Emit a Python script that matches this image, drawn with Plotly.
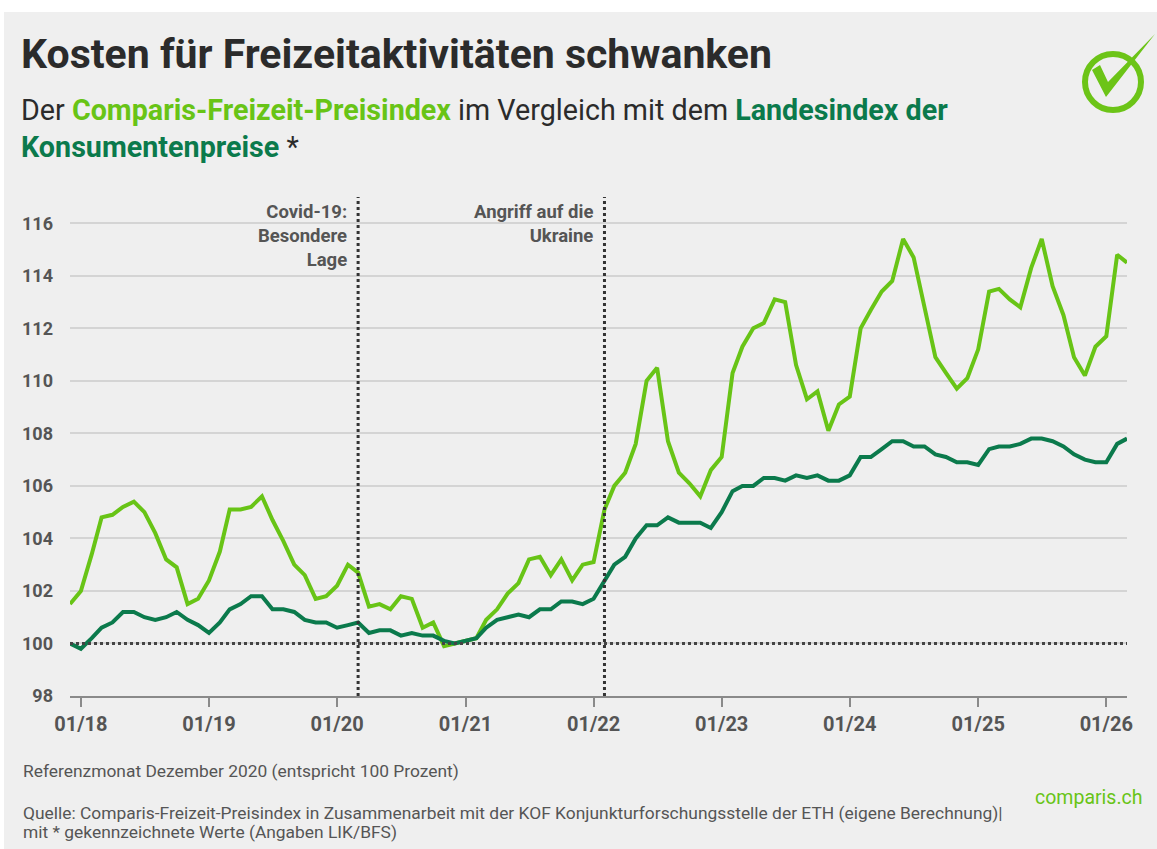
import plotly.graph_objects as go
import pandas as pd

# ---------------- data ----------------
months = pd.date_range("2017-12-01", "2026-03-01", freq="MS").strftime("%Y-%m-%d").tolist()

freizeit_index = [
    101.5,
    102.0, 103.4, 104.8, 104.9, 105.2, 105.4, 105.0, 104.2, 103.2, 102.9, 101.5, 101.7,
    102.4, 103.5, 105.1, 105.1, 105.2, 105.6, 104.7, 103.9, 103.0, 102.6, 101.7, 101.8,
    102.2, 103.0, 102.7, 101.4, 101.5, 101.3, 101.8, 101.7, 100.6, 100.8, 99.9, 100.0,
    100.1, 100.2, 100.9, 101.3, 101.9, 102.3, 103.2, 103.3, 102.6, 103.2, 102.4, 103.0,
    103.1, 105.1, 106.0, 106.5, 107.6, 110.0, 110.5, 107.7, 106.5, 106.1, 105.6, 106.6,
    107.1, 110.3, 111.3, 112.0, 112.2, 113.1, 113.0, 110.6, 109.3, 109.6, 108.1, 109.1,
    109.4, 112.0, 112.7, 113.4, 113.8, 115.4, 114.7, 112.8, 110.9, 110.3, 109.7, 110.1,
    111.2, 113.4, 113.5, 113.1, 112.8, 114.3, 115.4, 113.6, 112.5, 110.9, 110.2, 111.3,
    111.7, 114.8, 114.5,
]

lik_index = [
    100.0,
    99.8, 100.2, 100.6, 100.8, 101.2, 101.2, 101.0, 100.9, 101.0, 101.2, 100.9, 100.7,
    100.4, 100.8, 101.3, 101.5, 101.8, 101.8, 101.3, 101.3, 101.2, 100.9, 100.8, 100.8,
    100.6, 100.7, 100.8, 100.4, 100.5, 100.5, 100.3, 100.4, 100.3, 100.3, 100.1, 100.0,
    100.1, 100.2, 100.6, 100.9, 101.0, 101.1, 101.0, 101.3, 101.3, 101.6, 101.6, 101.5,
    101.7, 102.4, 103.0, 103.3, 104.0, 104.5, 104.5, 104.8, 104.6, 104.6, 104.6, 104.4,
    105.0, 105.8, 106.0, 106.0, 106.3, 106.3, 106.2, 106.4, 106.3, 106.4, 106.2, 106.2,
    106.4, 107.1, 107.1, 107.4, 107.7, 107.7, 107.5, 107.5, 107.2, 107.1, 106.9, 106.9,
    106.8, 107.4, 107.5, 107.5, 107.6, 107.8, 107.8, 107.7, 107.5, 107.2, 107.0, 106.9,
    106.9, 107.6, 107.8,
]

tick_dates = ["2018-01-01", "2019-01-01", "2020-01-01", "2021-01-01", "2022-01-01",
              "2023-01-01", "2024-01-01", "2025-01-01", "2026-01-01"]
tick_labels = ["01/18", "01/19", "01/20", "01/21", "01/22", "01/23", "01/24", "01/25", "01/26"]
y_ticks = [98, 100, 102, 104, 106, 108, 110, 112, 114, 116]

event_dates = ["2020-03-01", "2022-02-01"]
event_labels = ["Covid-19:<br>Besondere<br>Lage", "Angriff auf die<br>Ukraine"]
reference_value = 100

# ---------------- style ----------------
W, H = 1157, 849
L, R, T, B = 70, 30, 197, 153
PW, PH = W - L - R, H - T - B

def px(x):
    return (x - L) / PW

def py(y):
    return (H - B - y) / PH

LIGHT = "#68c416"
DARK = "#0b7a4c"
BG = "#efefef"
FONT = "Roboto, Arial, sans-serif"

fig = go.Figure()
fig.add_trace(go.Scatter(x=months, y=freizeit_index, mode="lines",
                         line=dict(color=LIGHT, width=4), name="Comparis-Freizeit-Preisindex"))
fig.add_trace(go.Scatter(x=months, y=lik_index, mode="lines",
                         line=dict(color=DARK, width=4), name="Landesindex der Konsumentenpreise"))

shapes = []
# white strips around the grey panel
shapes.append(dict(type="rect", xref="paper", yref="paper", x0=px(0), x1=px(W), y0=py(12), y1=py(0),
                   fillcolor="white", line=dict(width=0), layer="below"))
shapes.append(dict(type="rect", xref="paper", yref="paper", x0=px(0), x1=px(4), y0=py(H), y1=py(0),
                   fillcolor="white", line=dict(width=0), layer="below"))
# reference line at 100
shapes.append(dict(type="line", xref="paper", yref="y", x0=0, x1=1, y0=reference_value, y1=reference_value,
                   line=dict(color="#444444", width=3, dash="dot"), layer="above"))
# event lines
for d in event_dates:
    shapes.append(dict(type="line", xref="x", yref="paper", x0=d, x1=d, y0=0, y1=1,
                       line=dict(color="#333333", width=3, dash="dot"), layer="above"))
# logo: ring + check
cx, cy, r = 1113, 82, 28
shapes.append(dict(type="circle", xref="paper", yref="paper",
                   x0=px(cx - r), x1=px(cx + r), y0=py(cy + r), y1=py(cy - r),
                   line=dict(color="#6cc417", width=6), fillcolor="rgba(0,0,0,0)"))
check = [(1092, 70), (1100, 65), (1108, 82), (1155, 34), (1106, 97)]
path = "M " + " L ".join(f"{px(a):.5f},{py(b):.5f}" for a, b in check) + " Z"
shapes.append(dict(type="path", xref="paper", yref="paper", path=path,
                   fillcolor="#6cc417", line=dict(width=0)))

annotations = []
def text(x, y, s, size, color="#333333", xanchor="left", weight="normal", yanchor="middle"):
    annotations.append(dict(xref="paper", yref="paper", x=px(x), y=py(y), text=s, showarrow=False,
                            xanchor=xanchor, yanchor=yanchor, align=xanchor if xanchor != "center" else "center",
                            font=dict(family=FONT, size=size, color=color, weight=weight)))

text(19, 54, "Kosten für Freizeitaktivitäten schwanken", 41, "#2b2b2b", weight="bold")
text(19, 110, "Der <b><span style='color:%s'>Comparis-Freizeit-Preisindex</span></b> im Vergleich mit dem "
              "<b><span style='color:%s'>Landesindex der</span></b>" % (LIGHT, DARK), 28.7, "#2b2b2b")
text(19, 147, "<b><span style='color:%s'>Konsumentenpreise</span></b> *" % DARK, 28.7, "#2b2b2b")

for d, lab in zip(event_dates, event_labels):
    annotations.append(dict(xref="x", yref="paper", x=d, y=py(199), text=lab, showarrow=False,
                            xanchor="right", yanchor="top", align="right", xshift=-9,
                            font=dict(family=FONT, size=18.5, color="#555555", weight="bold")))

text(21, 771, "Referenzmonat Dezember 2020 (entspricht 100 Prozent)", 17.4, "#555555")
text(21, 813, "Quelle: Comparis-Freizeit-Preisindex in Zusammenarbeit mit der KOF Konjunkturforschungsstelle der ETH (eigene Berechnung)|", 17.4, "#555555")
text(21, 832, "mit * gekennzeichnete Werte (Angaben LIK/BFS)", 17.4, "#555555")
text(1145, 797, "comparis.ch", 19.5, "#68c416", xanchor="right")

fig.update_layout(
    width=W, height=H,
    margin=dict(l=L, r=R, t=T, b=B, pad=0),
    paper_bgcolor=BG, plot_bgcolor=BG,
    showlegend=False,
    shapes=shapes, annotations=annotations,
    font=dict(family=FONT),
)
fig.update_xaxes(type="date", range=[months[0], months[-1]], tickvals=tick_dates, ticktext=tick_labels,
                 showgrid=False, showline=True, linecolor="#8a8a8a", linewidth=2,
                 ticks="outside", ticklen=9, tickwidth=1.5, tickcolor="#8a8a8a",
                 tickfont=dict(family=FONT, size=20, color="#555555", weight="bold"), zeroline=False)
fig.update_yaxes(range=[98, 117], tickvals=y_ticks, showgrid=True, gridcolor="#d4d4d4", gridwidth=2,
                 zeroline=False, showline=False, ticks="", ticklabelstandoff=16,
                 tickfont=dict(family=FONT, size=18, color="#555555", weight="bold"))

fig.write_html("out.html", config={"displayModeBar": False},
               post_script="document.body.style.margin='0';document.body.style.overflow='hidden';")
